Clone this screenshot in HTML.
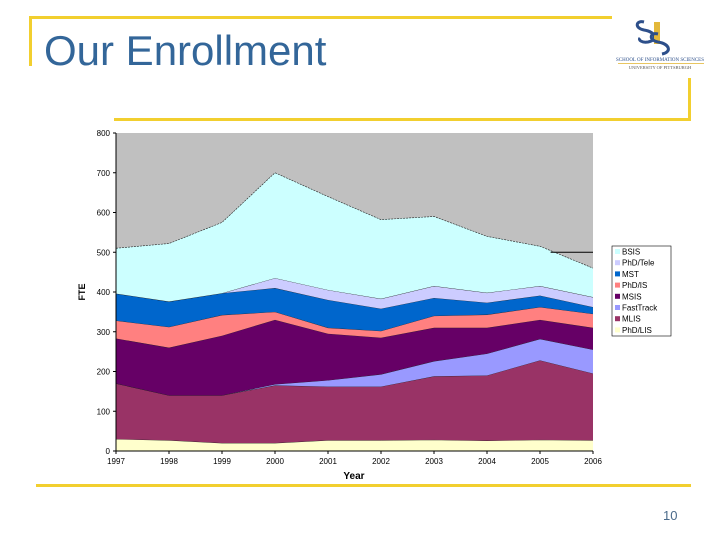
<!DOCTYPE html>
<html><head><meta charset="utf-8"><style>
html,body{margin:0;padding:0;background:#fff;}
#wrap{position:relative;width:720px;height:540px;overflow:hidden;font-family:"Liberation Sans",Arial,sans-serif;}
.abs{position:absolute;}
</style></head><body>
<div id="wrap">
<div class="abs" style="left:29px;top:16px;width:583px;height:3px;background:#f2cf2f"></div>
<div class="abs" style="left:29px;top:16px;width:3px;height:50px;background:#f2cf2f"></div>
<div class="abs" style="left:44px;top:27px;font-size:42px;line-height:48px;color:#336699;white-space:nowrap">Our Enrollment</div>
<div class="abs" style="left:114px;top:118px;width:577px;height:3px;background:#f2cf2f"></div>
<div class="abs" style="left:688px;top:78px;width:3px;height:42px;background:#f2cf2f"></div>
<div class="abs" style="left:36px;top:484px;width:655px;height:3px;background:#f2cf2f"></div>
<div class="abs" style="left:663px;top:508px;font-size:13px;color:#4a6a8a">10</div>
<div class="abs" style="left:614px;top:14px;width:92px;height:60px">
<svg width="92" height="60">
<path d="M30 8 C22 6 20 14 30 16 C42 18 44 26 34 28 C28 29 24 26 26 24" fill="none" stroke="#2d4f8a" stroke-width="3"/>
<rect x="40" y="8" width="6" height="22" fill="#e3b83a"/>
<path d="M44 20 C36 18 34 26 44 28 C56 30 58 38 48 40" fill="none" stroke="#2d4f8a" stroke-width="3"/>
<text x="46" y="47" font-size="5" text-anchor="middle" fill="#2d4f8a" font-family="Liberation Serif,serif">SCHOOL OF INFORMATION SCIENCES</text>
<rect x="4" y="49" width="86" height="0.8" fill="#e3b83a"/>
<text x="46" y="55" font-size="4.5" text-anchor="middle" fill="#555" font-family="Liberation Serif,serif">UNIVERSITY OF PITTSBURGH</text>
</svg></div>
<svg id="chart" class="abs" style="left:0;top:0" width="720" height="540"></svg>
</div>
<script>
const years=["1997","1998","1999","2000","2001","2002","2003","2004","2005","2006"];
const seriesNames=["PhD/LIS","MLIS","FastTrack","MSIS","PhD/IS","MST","PhD/Tele","BSIS"];
const phdLis=[30,27,20,20,27,27,28,26,28,27];
const mlis=[140,113,120,145,135,135,160,164,200,168];
const fastTrack=[0,0,0,3,16,31,38,55,54,60];
const msis=[113,120,150,162,117,92,84,65,48,55];
const phdIs=[45,52,52,20,15,17,30,33,32,35];
const mst=[68,64,55,60,70,56,45,30,29,17];
const phdTele=[0,0,0,25,25,25,30,25,24,25];
const bsis=[114,146,178,265,235,199,175,142,100,73];
const yTicks=[0,100,200,300,400,500,600,700,800];
const colors=["#ffffcc","#993366","#9999ff","#660066","#ff8080","#0066cc","#ccccff","#ccffff"];
const legendSwatch=["#ccffff","#ccccff","#0066cc","#ff8080","#660066","#9999ff","#993366","#ffffcc"];
const NS="http://www.w3.org/2000/svg";
const svg=document.getElementById('chart');
const X0=116,X1=593,Y0=451,Y1=133;
function xs(i){return X0+(X1-X0)*i/(years.length-1);}
function ys(v){return Y0-(Y0-Y1)*v/800;}
function mk(t,a){const e=document.createElementNS(NS,t);for(const k in a)e.setAttribute(k,a[k]);svg.appendChild(e);return e;}
const bg=mk('rect',{x:X0,y:Y1,width:X1-X0,height:Y0-Y1,fill:'#c0c0c0'});


const data=[phdLis,mlis,fastTrack,msis,phdIs,mst,phdTele,bsis];
let base=years.map(()=>0);
data.forEach((s,k)=>{
  const top=base.map((b,i)=>b+s[i]);
  let d='M'+xs(0)+','+ys(top[0]);
  for(let i=1;i<years.length;i++)d+=' L'+xs(i)+','+ys(top[i]);
  for(let i=years.length-1;i>=0;i--)d+=' L'+xs(i)+','+ys(base[i]);
  d+='Z';
  const p=mk('path',{d:d,fill:colors[k],stroke:'none'});
  
  
  let ld='M'+xs(0)+','+ys(top[0]);
  for(let i=1;i<years.length;i++)ld+=' L'+xs(i)+','+ys(top[i]);
  const l=mk('path',{d:ld,fill:'none',stroke:'#222',"stroke-width":0.6,"stroke-dasharray":k==7?'2,1':'none'});
  
  
  base=top;
});
const ref=mk('line',{x1:xs(8.2),x2:X1,y1:ys(500),y2:ys(500),stroke:'#000','stroke-width':1});


const ax=mk('line',{x1:X0,x2:X0,y1:Y1,y2:Y0,stroke:'#000'});


const bx=mk('line',{x1:X0,x2:X1,y1:Y0,y2:Y0,stroke:'#000'});


yTicks.forEach(v=>{
  mk('line',{x1:X0-3,x2:X0,y1:ys(v),y2:ys(v),stroke:'#000'});
  const t=mk('text',{x:X0-6,y:ys(v)+3,"font-size":8,"text-anchor":"end",fill:'#000'});
  t.textContent=v;
  
  
});
years.forEach((y,i)=>{
  mk('line',{x1:xs(i),x2:xs(i),y1:Y0,y2:Y0+3,stroke:'#000'});
  const t=mk('text',{x:xs(i),y:Y0+13,"font-size":8,"text-anchor":"middle",fill:'#000'});
  t.textContent=y;
  
  
});
const xt=mk('text',{x:354,y:479,"font-size":10,"font-weight":"bold","text-anchor":"middle"});
xt.textContent='Year';


const yt=mk('text',{x:85,y:292,"font-size":9,"font-weight":"bold","text-anchor":"middle",transform:'rotate(-90 85 292)'});
yt.textContent='FTE';


const lg=mk('rect',{x:612,y:246,width:59,height:90,fill:'#fff',stroke:'#000','stroke-width':0.6});


const legendNames=["BSIS","PhD/Tele","MST","PhD/IS","MSIS","FastTrack","MLIS","PhD/LIS"];
legendNames.forEach((n,i)=>{
  const yy=252+i*11.2;
  mk('rect',{x:615,y:yy-3,width:5,height:5,fill:legendSwatch[i]});
  const t=mk('text',{x:622,y:yy+2.5,"font-size":8,fill:'#000'});
  t.textContent=n;
  
  
});
</script>
</body></html>
